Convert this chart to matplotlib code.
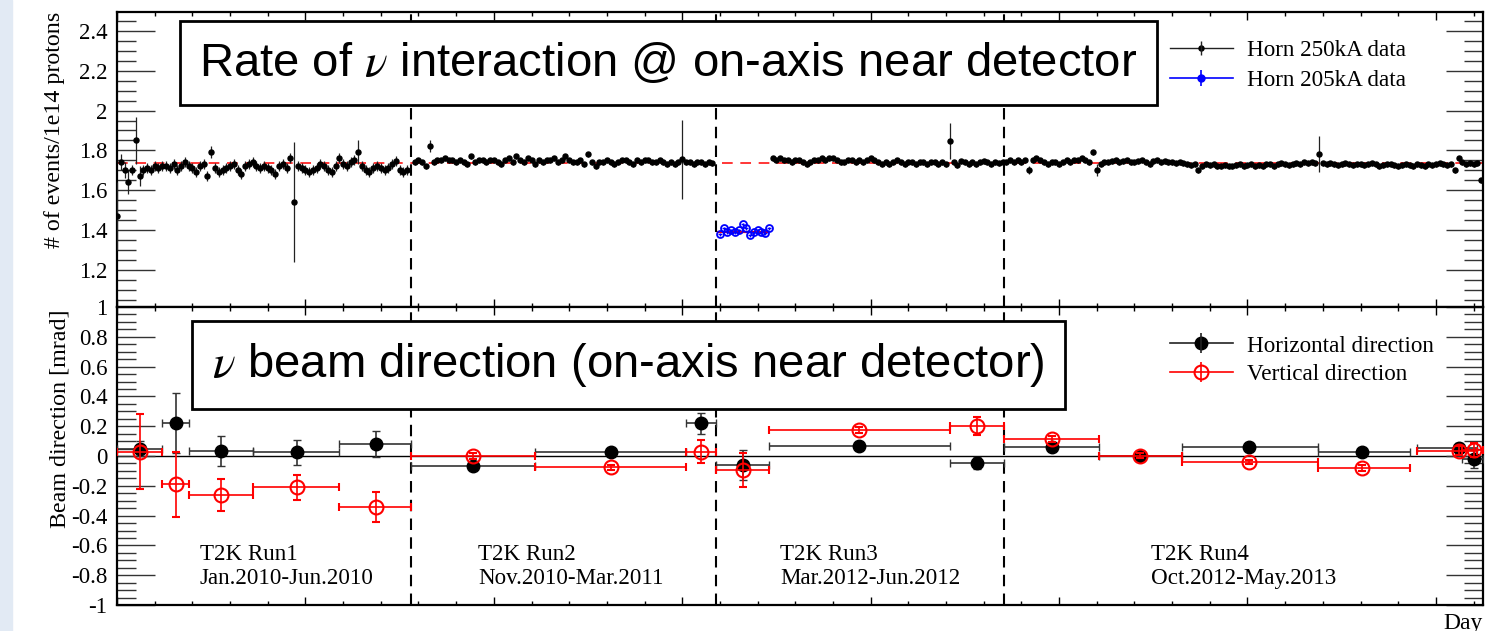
import numpy as np
import matplotlib
matplotlib.use('Agg')
import matplotlib.pyplot as plt
from matplotlib.ticker import MultipleLocator, FixedLocator
from matplotlib.lines import Line2D
from matplotlib.patches import Rectangle

plt.rcParams['font.family'] = ['Liberation Serif', 'DejaVu Serif']
plt.rcParams['mathtext.fontset'] = 'stix'

# ---- top panel: events / 1e14 protons, one point per beam day
run1_start = 0
run1_rate = [1.47, 1.74, 1.70, 1.64, 1.70, 1.85, 1.67, 1.70, 1.71, 1.70,
             1.72, 1.71, 1.72, 1.72, 1.71, 1.73, 1.70, 1.72, 1.74, 1.72,
             1.71, 1.69, 1.72, 1.73, 1.67, 1.79, 1.71, 1.69, 1.70, 1.71,
             1.72, 1.73, 1.70, 1.68, 1.72, 1.73, 1.74, 1.72, 1.71, 1.72,
             1.71, 1.70, 1.68, 1.72, 1.73, 1.71, 1.76, 1.54, 1.72, 1.71,
             1.70, 1.69, 1.70, 1.71, 1.73, 1.72, 1.70, 1.69, 1.72, 1.76,
             1.73, 1.72, 1.74, 1.75, 1.79, 1.72, 1.70, 1.69, 1.71, 1.72,
             1.71, 1.70, 1.71, 1.73, 1.745, 1.70, 1.69, 1.70]
run2_start = 79
run2_rate = [1.74, 1.75, 1.74, 1.72, 1.82, 1.74, 1.75, 1.75, 1.76, 1.75,
             1.75, 1.74, 1.75, 1.74, 1.73, 1.77, 1.74, 1.75, 1.75, 1.74,
             1.75, 1.75, 1.74, 1.73, 1.75, 1.76, 1.74, 1.77, 1.75, 1.74,
             1.76, 1.75, 1.73, 1.75, 1.74, 1.75, 1.75, 1.76, 1.74, 1.75,
             1.77, 1.75, 1.74, 1.74, 1.75, 1.73, 1.78, 1.74, 1.72, 1.74,
             1.74, 1.75, 1.74, 1.73, 1.74, 1.75, 1.75, 1.74, 1.73, 1.75,
             1.74, 1.75, 1.75, 1.74, 1.74, 1.75, 1.74, 1.73, 1.74, 1.73,
             1.74, 1.755, 1.74, 1.74, 1.73, 1.74, 1.74, 1.73, 1.74, 1.735]
run3_start = 174
run3_rate = [1.76, 1.75, 1.76, 1.75, 1.75, 1.74, 1.75, 1.75, 1.74, 1.73,
             1.74, 1.75, 1.75, 1.76, 1.75, 1.76, 1.76, 1.75, 1.74, 1.74,
             1.75, 1.75, 1.74, 1.75, 1.74, 1.75, 1.76, 1.75, 1.74, 1.73,
             1.74, 1.73, 1.74, 1.75, 1.74, 1.73, 1.74, 1.74, 1.73, 1.74,
             1.74, 1.73, 1.74, 1.74, 1.73, 1.74, 1.73, 1.845, 1.74, 1.725,
             1.745, 1.74, 1.73, 1.74, 1.73, 1.74, 1.745, 1.74, 1.73, 1.74,
             1.735, 1.74]
run4_start = 236
run4_rate = [1.74, 1.75, 1.74, 1.75, 1.74, 1.75, 1.70, 1.75, 1.76, 1.75,
             1.74, 1.73, 1.74, 1.74, 1.73, 1.74, 1.75, 1.74, 1.75, 1.75,
             1.76, 1.75, 1.74, 1.79, 1.70, 1.73, 1.74, 1.74, 1.745, 1.75,
             1.74, 1.745, 1.75, 1.74, 1.74, 1.745, 1.75, 1.74, 1.73, 1.745,
             1.75, 1.74, 1.745, 1.74, 1.74, 1.735, 1.74, 1.735, 1.73, 1.725,
             1.73, 1.70, 1.72, 1.73, 1.725, 1.73, 1.72, 1.72, 1.725, 1.72,
             1.72, 1.725, 1.73, 1.72, 1.725, 1.73, 1.72, 1.725, 1.72, 1.73,
             1.73, 1.72, 1.73, 1.735, 1.73, 1.725, 1.73, 1.735, 1.73, 1.74,
             1.735, 1.74, 1.735, 1.78, 1.735, 1.73, 1.735, 1.73, 1.725, 1.73,
             1.735, 1.73, 1.725, 1.73, 1.73, 1.725, 1.73, 1.735, 1.73, 1.72,
             1.725, 1.73, 1.73, 1.725, 1.72, 1.725, 1.73, 1.725, 1.72, 1.73,
             1.725, 1.72, 1.73, 1.725, 1.73, 1.735, 1.73, 1.725, 1.73, 1.70,
             1.76, 1.74, 1.73, 1.735, 1.73, 1.735, 1.65]
typical_err = [0.025, 0.012, 0.012, 0.012]
big_err = {0: 0.17, 1: 0.04, 2: 0.04, 3: 0.06, 5: 0.12, 6: 0.05, 25: 0.03,
           47: 0.30, 64: 0.06, 83: 0.03, 150: 0.20, 221: 0.09, 242: 0.02,
           260: 0.03, 319: 0.09}
mean_rate = 1.735

# horn 205kA days
blue_start = 160
blue_rate = [1.38, 1.41, 1.39, 1.40, 1.39, 1.40, 1.43, 1.41, 1.375, 1.39,
             1.40, 1.39, 1.385, 1.41]
blue_mean = 1.392

run_edges = [78, 159, 235.3]

# ---- bottom panel: beam direction [mrad]
bin_lo = [0, 12, 19, 36, 59, 78, 111, 151, 159, 173, 221, 235.3, 260.5, 282.5, 318.6, 345, 357]
bin_hi = [12, 19, 36, 59, 78, 111, 151, 159, 173, 221, 235.3, 260.5, 282.5, 318.6, 343, 361, 362.5]
bin_mid = [6.1, 15.6, 27.5, 47.7, 68.6, 94.5, 131.2, 155, 166, 197, 228.3, 248, 271.4, 300.5, 330.5, 356, 360]
horiz = [0.05, 0.22, 0.035, 0.025, 0.08, -0.067, 0.025, 0.22, -0.06, 0.07, -0.05, 0.06, 0.0, 0.063, 0.027, 0.054, -0.02]
horiz_err = [0.05, 0.2, 0.1, 0.085, 0.085, 0.02, 0.015, 0.07, 0.1, 0.015, 0.04, 0.02, 0.015, 0.015, 0.015, 0.03, 0.06]
vert = [0.03, -0.19, -0.26, -0.21, -0.34, 0.0, -0.076, 0.03, -0.094, 0.175, 0.2, 0.114, 0.002, -0.04, -0.08, 0.034, 0.04]
vert_err = [0.25, 0.22, 0.107, 0.085, 0.1, 0.02, 0.015, 0.08, 0.115, 0.02, 0.06, 0.02, 0.015, 0.015, 0.02, 0.03, 0.05]

run_names = ['T2K Run1', 'T2K Run2', 'T2K Run3', 'T2K Run4']
run_dates = ['Jan.2010-Jun.2010', 'Nov.2010-Mar.2011', 'Mar.2012-Jun.2012', 'Oct.2012-May.2013']
run_label_x = [22, 95.8, 175.9, 274.5]

W, H = 1495, 631
fig = plt.figure(figsize=(W / 100, H / 100), dpi=100)
fig.patches.append(Rectangle((0, 0), 12 / W, 1, transform=fig.transFigure,
                             color='#e2eaf4', zorder=0))

ax1 = fig.add_axes([117 / W, 1 - 307 / H, 1366 / W, 295 / H])
ax2 = fig.add_axes([117 / W, 1 - 605 / H, 1366 / W, 298 / H], sharex=ax1)

for i, (start, vals) in enumerate([(run1_start, run1_rate), (run2_start, run2_rate),
                                   (run3_start, run3_rate), (run4_start, run4_rate)]):
    days = start + np.arange(len(vals))
    err = np.full(len(vals), typical_err[i])
    for j, d in enumerate(days):
        if d in big_err:
            err[j] = big_err[d]
    ax1.errorbar(days, vals, yerr=err, xerr=0.5, fmt='o', ms=3.6, color='black',
                 ecolor='#222222', elinewidth=0.9, capsize=0, zorder=3)

ax1.axhline(mean_rate, color='red', ls=(0, (7, 5)), lw=1.1, zorder=2)

bdays = blue_start + np.arange(len(blue_rate))
ax1.errorbar(bdays, blue_rate, yerr=0.008, xerr=0.5, fmt='o', ms=5, mfc='none',
             mec='blue', mew=1.3, color='blue', elinewidth=1, zorder=3)
ax1.plot([bdays[0] - 0.5, bdays[-1] - 0.5], [blue_mean, blue_mean], color='red', lw=1.6, zorder=2)

# ---- bottom panel
lo = np.array(bin_lo)
hi = np.array(bin_hi)
mid = np.array(bin_mid)
ax2.axhline(0, color='black', lw=1, zorder=1)
ax2.errorbar(mid, horiz, yerr=horiz_err, xerr=[mid - lo, hi - mid], fmt='o', ms=9,
             color='black', ecolor='#333333', elinewidth=1.2, capsize=3, zorder=3)
ax2.errorbar(mid, vert, yerr=vert_err, xerr=[mid - lo, hi - mid], fmt='o', ms=10,
             mfc='none', mec='red', mew=1.5, color='red', ecolor='red',
             elinewidth=1.2, capsize=3, zorder=4)

for x, name, date in zip(run_label_x, run_names, run_dates):
    ax2.text(x, -0.70, name, fontsize=16.6, va='baseline', ha='left')
    ax2.text(x, -0.861, date, fontsize=16.6, va='baseline', ha='left')

for ax in (ax1, ax2):
    for e in run_edges:
        ax.axvline(e, color='black', ls=(0, (5.5, 3.5)), lw=1.5, zorder=2)
    ax.set_xlim(0, 362.5)
    ax.xaxis.set_major_locator(MultipleLocator(50))
    ax.xaxis.set_minor_locator(MultipleLocator(10))
    ax.tick_params(axis='x', which='major', direction='in', length=6, width=1,
                   top=True, bottom=True, labelbottom=False)
    ax.tick_params(axis='x', which='minor', direction='in', length=3, width=1,
                   top=True, bottom=True)
    ax.tick_params(axis='y', which='major', direction='in', length=27, width=1,
                   left=True, right=True, labelsize=16.5, pad=7, color='#333333')
    ax.tick_params(axis='y', which='minor', direction='in', length=14, width=1,
                   left=True, right=True, color='#333333')
    for s in ax.spines.values():
        s.set_linewidth(1.6)

ax1.set_ylim(1.015, 2.494)
ax1.yaxis.set_major_locator(FixedLocator([1.2, 1.4, 1.6, 1.8, 2.0, 2.2, 2.4]))
ax1.set_yticklabels(['1.2', '1.4', '1.6', '1.8', '2', '2.2', '2.4'])
ax1.yaxis.set_minor_locator(MultipleLocator(0.05))
ax1.set_ylabel('# of events/1e14 protons', fontsize=17.3, loc='top')
ax1.yaxis.set_label_coords(-0.038, 1.0)

yt = [-1, -0.8, -0.6, -0.4, -0.2, 0, 0.2, 0.4, 0.6, 0.8, 1]
ax2.set_ylim(-1, 1)
ax2.yaxis.set_major_locator(FixedLocator(yt))
ax2.set_yticklabels(['-1', '-0.8', '-0.6', '-0.4', '-0.2', '0', '0.2', '0.4', '0.6', '0.8', '1'])
ax2.yaxis.set_minor_locator(MultipleLocator(0.05))
ax2.set_ylabel('Beam direction [mrad]', fontsize=17.3, loc='top')
ax2.yaxis.set_label_coords(-0.034, 0.99)
ax2.set_xlabel('Day', fontsize=17, loc='right', labelpad=2)

# legends
h_black = (Line2D([], [], color='#222222', lw=1, marker='o', ms=3.6, mfc='black', mec='black'),
           Line2D([], [], ls='none', marker='|', ms=10, mew=1, color='#222222'))
h_blue = (Line2D([], [], color='blue', lw=1.2, marker='o', ms=5),
          Line2D([], [], ls='none', marker='|', ms=12, mew=1.2, color='blue'))
ax1.legend([h_black, h_blue], ['Horn 250kA data', 'Horn 205kA data'], loc='upper left',
           bbox_to_anchor=(0.771, 0.905), frameon=False, fontsize=16.7, handlelength=2.7,
           handletextpad=0.6, labelspacing=0.36, borderpad=0, borderaxespad=0)

h_hor = (Line2D([], [], color='#222222', lw=1.2, marker='o', ms=9, mfc='black', mec='black'),
         Line2D([], [], ls='none', marker='|', ms=14, mew=1.2, color='#222222'))
h_ver = (Line2D([], [], color='red', lw=1.2, marker='o', ms=10, mfc='none', mec='red', mew=1.5),
         Line2D([], [], ls='none', marker='|', ms=14, mew=1.2, color='red'))
ax2.legend([h_hor, h_ver], ['Horizontal direction', 'Vertical direction'], loc='upper left',
           bbox_to_anchor=(0.771, 0.905), frameon=False, fontsize=16.7, handlelength=2.7,
           handletextpad=0.6, labelspacing=0.33, borderpad=0, borderaxespad=0)

# text boxes
box = dict(boxstyle='square,pad=0.42', fc='white', ec='black', lw=2)
ax1.text(0.4037, 0.827, r'Rate of $\nu$ interaction @ on-axis near detector',
         transform=ax1.transAxes, family=['Liberation Sans', 'DejaVu Sans'], fontsize=34,
         ha='center', va='center', bbox=box, zorder=10)
ax2.text(0.3745, 0.805, r'$\nu$ beam direction (on-axis near detector)',
         transform=ax2.transAxes, family=['Liberation Sans', 'DejaVu Sans'], fontsize=34,
         ha='center', va='center', bbox=box, zorder=10)

fig.savefig('out.png', dpi=100)
